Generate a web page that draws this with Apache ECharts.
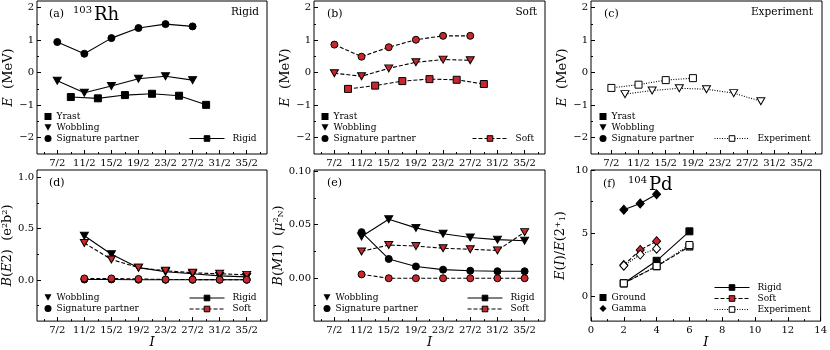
<!DOCTYPE html>
<html>
<head>
<meta charset="utf-8">
<script src="https://cdn.jsdelivr.net/npm/echarts@6/dist/echarts.min.js"></script>
<style>
html, body { margin: 0; padding: 0; background: #fff; }
#chart { width: 830px; height: 350px; }
</style>
</head>
<body>
<div id="chart"></div>
<script>
// spins I of the bands (odd-A, shown as n/2)
var spinWob = [3.5, 5.5, 7.5, 9.5, 11.5, 13.5];
var spinYrast = [4.5, 6.5, 8.5, 10.5, 12.5, 14.5];
var spinTrans = [5.5, 7.5, 9.5, 11.5, 13.5, 15.5, 17.5];
var spinTicks = [3.5, 5.5, 7.5, 9.5, 11.5, 13.5, 15.5, 17.5];
var spinMinor = [2.5, 4.5, 6.5, 8.5, 10.5, 12.5, 14.5, 16.5, 18.5];

// (a) 103Rh rigid, E (MeV)
var rigidYrast = [-0.75, -0.79, -0.69, -0.65, -0.71, -0.99];
var rigidWob = [-0.25, -0.62, -0.41, -0.19, -0.11, -0.23];
var rigidSig = [0.94, 0.58, 1.06, 1.37, 1.49, 1.42];
// (b) soft
var softYrast = [-0.50, -0.40, -0.26, -0.20, -0.22, -0.35];
var softWob = [-0.02, -0.11, 0.13, 0.32, 0.40, 0.38];
var softSig = [0.86, 0.49, 0.78, 1.01, 1.13, 1.13];
// (c) experiment
var expYrastSpin = [3.5, 5.5, 7.5, 9.5];
var expYrast = [-0.47, -0.37, -0.23, -0.17];
var expWob = [-0.66, -0.55, -0.48, -0.51, -0.63, -0.88];

// (d) B(E2)
var rigidBE2Wob = [0.43, 0.25, 0.12, 0.08, 0.06, 0.04, 0.03];
var softBE2Wob = [0.36, 0.20, 0.12, 0.09, 0.07, 0.06, 0.05];
var rigidBE2Sig = [0.005, 0.005, 0.003, 0.002, 0.002, 0.002, 0.002];
var softBE2Sig = [0.015, 0.015, 0.01, 0.005, 0.004, 0.003, 0.003];
// (e) B(M1)
var rigidBM1Wob = [0.039, 0.055, 0.047, 0.0415, 0.038, 0.036, 0.035];
var softBM1Wob = [0.025, 0.031, 0.030, 0.028, 0.027, 0.026, 0.043];
var rigidBM1Sig = [0.043, 0.018, 0.011, 0.008, 0.007, 0.0065, 0.0065];
var softBM1Sig = [0.0036, 0.0, 0.0, 0.0, 0.0, 0.0, 0.0];

// (f) 104Pd, E(I)/E(2+)
var pdGroundSpin = [2, 4, 6];
var pdGammaSpin = [2, 3, 4];
var rigidGround = [1, 2.79, 5.13];
var softGround = [1, 2.35, 3.92];
var expGround = [1, 2.37, 4.04];
var rigidGamma = [6.85, 7.34, 8.07];
var softGamma = [2.45, 3.65, 4.35];
var expGamma = [2.4, 3.28, 3.75];

var FONT = 'DejaVu Serif';
var RED = '#c8282d';

var chart = echarts.init(document.getElementById('chart'));

var grids = [
  { left: 37, top: 1, width: 230, height: 153 },
  { left: 314, top: 1, width: 231, height: 153 },
  { left: 591, top: 1, width: 231, height: 153 },
  { left: 37, top: 170, width: 230, height: 153 },
  { left: 314, top: 170, width: 231, height: 153 },
  { left: 591, top: 170, width: 231, height: 153 }
].map(function (g) {
  return Object.assign({ show: true, borderColor: '#000', borderWidth: 1, containLabel: false }, g);
});

var RICH = {
  i: { fontFamily: FONT, fontSize: 13, fontStyle: 'italic', color: '#000' },
  sup: { fontFamily: FONT, fontSize: 8, verticalAlign: 'top', color: '#000' },
  sub: { fontFamily: FONT, fontSize: 8, verticalAlign: 'bottom', color: '#000' }
};

function halfLabel(v) { return Math.round(v * 2) + '/2'; }
function minusLabel(v) { return v < 0 ? '\u2212' + (-v) : '' + v; }

function mainAxis(gi, r, dim) {
  return {
    type: 'value', gridIndex: gi, min: r.min, max: r.max,
    position: dim === 'x' ? 'bottom' : 'left',
    axisLine: { show: false, onZero: false },
    splitLine: { show: false },
    axisTick: { show: true, inside: true, length: 4, customValues: r.major, lineStyle: { color: '#000', width: 1 } },
    axisLabel: { customValues: r.major, formatter: r.fmt, margin: dim === 'x' ? 4 : 3, color: '#000', fontFamily: FONT, fontSize: 10 },
    name: r.name || '', nameLocation: 'middle', nameGap: r.nameGap || 0,
    nameTextStyle: { color: '#000', fontFamily: FONT, fontSize: 13, rich: RICH }
  };
}
function minorAxis(gi, r, dim) {
  return {
    type: 'value', gridIndex: gi, min: r.min, max: r.max,
    position: dim === 'x' ? 'bottom' : 'left',
    axisLine: { show: false, onZero: false },
    splitLine: { show: false },
    axisLabel: { show: false },
    axisTick: { show: true, inside: true, length: 2, customValues: r.minor, lineStyle: { color: '#000', width: 1 } }
  };
}

var xAxes = [], yAxes = [];
function addAxes(gi, xr, yr) {
  xAxes.push(mainAxis(gi, xr, 'x'), minorAxis(gi, xr, 'x'));
  yAxes.push(mainAxis(gi, yr, 'y'), minorAxis(gi, yr, 'y'));
}

var spinTop = { min: 2, max: 19, major: spinTicks, minor: spinMinor, fmt: halfLabel };
var spinBottom = Object.assign({}, spinTop, { name: '{i|I}', nameGap: 11 });
var energyY = { min: -2.5, max: 2.2, major: [-2, -1, 0, 1, 2], minor: [-1.5, -0.5, 0.5, 1.5], fmt: minusLabel,
  name: '{i|E}  (MeV)', nameGap: 21 };

addAxes(0, spinTop, energyY);
addAxes(1, spinTop, energyY);
addAxes(2, spinTop, energyY);
addAxes(3, spinBottom, { min: -0.4, max: 1.07, major: [0, 0.5, 1.0], minor: [-0.25, 0.25, 0.75],
  fmt: function (v) { return v.toFixed(1); }, name: '{i|B}({i|E}2)  (e{sup|2}b{sup|2})', nameGap: 22 });
addAxes(4, spinBottom, { min: -0.04, max: 0.101, major: [0, 0.05, 0.10], minor: [-0.025, 0.025, 0.075],
  fmt: function (v) { return v.toFixed(2); }, name: '{i|B}({i|M}1)  ({i|\u03bc}{sup|2}{sub|N})', nameGap: 27 });
addAxes(5, { min: 0, max: 14, major: [0, 2, 4, 6, 8, 10, 12, 14], minor: [1, 3, 5, 7, 9, 11, 13],
  fmt: function (v) { return '' + v; }, name: '{i|I}', nameGap: 11 },
  { min: -2, max: 10, major: [0, 5, 10], minor: [2.5, 7.5], fmt: function (v) { return '' + v; },
    name: '{i|E}({i|I})/{i|E}(2{sup|+}{sub|1})', nameGap: 24 });

var KIND = {
  rigid: { fill: '#000', dash: 'solid', z: 2 },
  soft: { fill: RED, dash: [4, 2], z: 3 },
  exp: { fill: '#fff', dash: [1, 1.5], z: 4 }
};
var SHAPE = {
  square: { symbol: 'rect', size: 7, rotate: 0 },
  tri: { symbol: 'triangle', size: [8, 7], rotate: 180 },
  circle: { symbol: 'circle', size: 7, rotate: 0 },
  diamond: { symbol: 'diamond', size: [8, 9], rotate: 0 }
};

function band(name, gi, xs, ys, kind, shape) {
  var k = KIND[kind], s = SHAPE[shape];
  return {
    type: 'line', name: name, xAxisIndex: gi * 2, yAxisIndex: gi * 2,
    data: xs.map(function (x, i) { return [x, ys[i]]; }),
    symbol: s.symbol, symbolSize: s.size, symbolRotate: s.rotate, showSymbol: true,
    itemStyle: { color: k.fill, borderColor: '#000', borderWidth: 1 },
    lineStyle: { color: '#000', width: 1.1, type: k.dash },
    z: k.z, silent: true, animation: false
  };
}

// empty series only used by the legends
function legendSeries(name, kind, shape) {
  return band(name, 0, [], [], kind, shape);
}

var series = [
  legendSeries('Rigid', 'rigid', 'square'),
  legendSeries('Soft', 'soft', 'square'),
  legendSeries('Experiment', 'exp', 'square'),
  legendSeries('Yrast', 'rigid', 'square'),
  legendSeries('Wobbling', 'rigid', 'tri'),
  legendSeries('Signature partner', 'rigid', 'circle'),
  legendSeries('Ground', 'rigid', 'square'),
  legendSeries('Gamma', 'rigid', 'diamond'),

  band('a-yrast', 0, spinYrast, rigidYrast, 'rigid', 'square'),
  band('a-wob', 0, spinWob, rigidWob, 'rigid', 'tri'),
  band('a-sig', 0, spinWob, rigidSig, 'rigid', 'circle'),

  band('b-yrast', 1, spinYrast, softYrast, 'soft', 'square'),
  band('b-wob', 1, spinWob, softWob, 'soft', 'tri'),
  band('b-sig', 1, spinWob, softSig, 'soft', 'circle'),

  band('c-yrast', 2, expYrastSpin, expYrast, 'exp', 'square'),
  band('c-wob', 2, spinYrast, expWob, 'exp', 'tri'),

  band('d-rwob', 3, spinTrans, rigidBE2Wob, 'rigid', 'tri'),
  band('d-rsig', 3, spinTrans, rigidBE2Sig, 'rigid', 'circle'),
  band('d-swob', 3, spinTrans, softBE2Wob, 'soft', 'tri'),
  band('d-ssig', 3, spinTrans, softBE2Sig, 'soft', 'circle'),

  band('e-rwob', 4, spinTrans, rigidBM1Wob, 'rigid', 'tri'),
  band('e-rsig', 4, spinTrans, rigidBM1Sig, 'rigid', 'circle'),
  band('e-swob', 4, spinTrans, softBM1Wob, 'soft', 'tri'),
  band('e-ssig', 4, spinTrans, softBM1Sig, 'soft', 'circle'),

  band('f-rgs', 5, pdGroundSpin, rigidGround, 'rigid', 'square'),
  band('f-rgam', 5, pdGammaSpin, rigidGamma, 'rigid', 'diamond'),
  band('f-sgs', 5, pdGroundSpin, softGround, 'soft', 'square'),
  band('f-sgam', 5, pdGammaSpin, softGamma, 'soft', 'diamond'),
  band('f-egs', 5, pdGroundSpin, expGround, 'exp', 'square'),
  band('f-egam', 5, pdGammaSpin, expGamma, 'exp', 'diamond')
];

var TRI_ICON = 'path://M0,0L10,0L5,9Z';
var shapeItems3 = [{ name: 'Yrast', icon: 'rect' }, { name: 'Wobbling', icon: TRI_ICON }, { name: 'Signature partner', icon: 'circle' }];
var shapeItems2 = [{ name: 'Wobbling', icon: TRI_ICON }, { name: 'Signature partner', icon: 'circle' }];
var shapeItemsPd = [{ name: 'Ground', icon: 'rect' }, { name: 'Gamma', icon: 'diamond' }];

function shapeLegend(left, top, items) {
  return {
    orient: 'vertical', left: left, top: top, padding: 0, itemGap: 2,
    itemWidth: 7, itemHeight: 7, selectedMode: false, data: items,
    itemStyle: { borderWidth: 0 },
    textStyle: { fontFamily: FONT, fontSize: 9, color: '#000', padding: [0, 0, 0, 0] }
  };
}
function lineLegend(left, top, names) {
  return {
    orient: 'vertical', left: left, top: top, padding: 0, itemGap: 2,
    itemWidth: 35, itemHeight: 7, selectedMode: false, data: names,
    lineStyle: { width: 1 },
    itemStyle: { borderWidth: 1 },
    textStyle: { fontFamily: FONT, fontSize: 9, color: '#000', padding: [0, 0, 0, 3] }
  };
}

var legends = [
  shapeLegend(44.5, 112, shapeItems3), lineLegend(189, 134, ['Rigid']),
  shapeLegend(321.5, 112, shapeItems3), lineLegend(472, 134, ['Soft']),
  shapeLegend(599.5, 112, shapeItems3), lineLegend(714, 134, ['Experiment']),
  shapeLegend(44.5, 293, shapeItems2), lineLegend(189, 293.5, ['Rigid', 'Soft']),
  shapeLegend(323.5, 293, shapeItems2), lineLegend(467, 293.5, ['Rigid', 'Soft']),
  shapeLegend(599.5, 293, shapeItemsPd), lineLegend(714, 283, ['Rigid', 'Soft', 'Experiment'])
];

function label(x, y, text, size, align) {
  return {
    type: 'text', x: x, y: y, silent: true,
    style: { text: text, fill: '#000', font: size + 'px "DejaVu Serif"', align: align || 'left', verticalAlign: 'middle' }
  };
}

var texts = [
  label(49, 14, '(a)', 11), label(73, 10, '103', 10), label(94, 15, 'Rh', 18),
  label(259, 12, 'Rigid', 10.5, 'right'),
  label(327, 14, '(b)', 11), label(537, 12, 'Soft', 10.5, 'right'),
  label(604, 14, '(c)', 11), label(813, 12, 'Experiment', 10.5, 'right'),
  label(49, 183, '(d)', 11),
  label(327, 183, '(e)', 11),
  label(603, 184, '(f)', 11), label(628, 180, '104', 10), label(649, 185, 'Pd', 18)
];

chart.setOption({
  backgroundColor: '#fff',
  animation: false,
  grid: grids,
  xAxis: xAxes,
  yAxis: yAxes,
  legend: legends,
  graphic: texts,
  series: series
});
</script>
</body>
</html>
